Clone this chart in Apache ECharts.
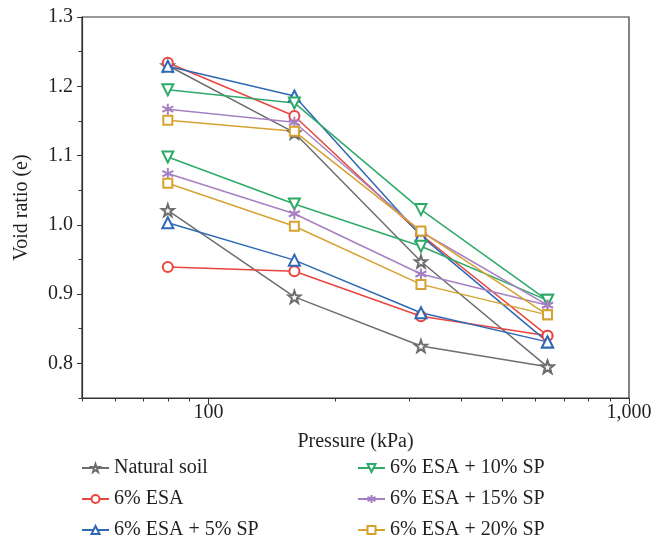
<!DOCTYPE html>
<html>
<head>
<meta charset="utf-8">
<script src="https://cdn.jsdelivr.net/npm/echarts@6/dist/echarts.min.js"></script>
<style>html,body{margin:0;padding:0;background:#fff}#c{width:664px;height:543px}</style>
</head>
<body>
<div id="c"></div>
<script>
const pressure = [80, 160, 320, 640];
const names = ['Natural soil', '6% ESA', '6% ESA + 5% SP', '6% ESA + 10% SP', '6% ESA + 15% SP', '6% ESA + 20% SP'];
const upperNatural = [1.230, 1.133, 0.947, 0.795];
const lowerNatural = [1.021, 0.896, 0.825, 0.795];
const upperESA = [1.234, 1.157, 0.986, 0.840];
const lowerESA = [0.939, 0.933, 0.868, 0.840];
const upperSP5 = [1.229, 1.186, 0.984, 0.831];
const lowerSP5 = [1.003, 0.949, 0.873, 0.831];
const upperSP10 = [1.195, 1.176, 1.022, 0.891];
const lowerSP10 = [1.098, 1.030, 0.969, 0.891];
const upperSP15 = [1.167, 1.148, 0.990, 0.884];
const lowerSP15 = [1.074, 1.016, 0.929, 0.884];
const upperSP20 = [1.151, 1.135, 0.991, 0.870];
const lowerSP20 = [1.060, 0.998, 0.914, 0.870];
const xMajorTicks = [100, 1000];
const xMinorTicks = [50, 60, 70, 80, 90, 200, 300, 400, 500, 600, 700, 800, 900];
const yMajorTicks = [0.8, 0.9, 1.0, 1.1, 1.2, 1.3];
const yMinorTicks = [0.75, 0.85, 0.95, 1.05, 1.15, 1.25];

const colors = ['#6e6e6e', '#e8453f', '#2f68b4', '#2eaa68', '#a680c2', '#d6a22f'];
const starPath = 'emptyPath://M0,-10L2.35,-3.24L9.51,-3.09L3.8,1.24L5.88,8.09L0,4L-5.88,8.09L-3.8,1.24L-9.51,-3.09L-2.35,-3.24Z';
const astPath = 'emptyPath://M0,-10L0,10M-8.66,-5L8.66,5M-8.66,5L8.66,-5';
const downTri = 'emptyPath://M-10,-8.66L10,-8.66L0,8.66Z';
const symbols = [starPath, 'emptyCircle', 'emptyTriangle', downTri, astPath, 'emptyRect'];
const sizes = [12, 10, 11, 11, 11, 9];
const seriesData = [
  [upperNatural, lowerNatural],
  [upperESA, lowerESA],
  [upperSP5, lowerSP5],
  [upperSP10, lowerSP10],
  [upperSP15, lowerSP15],
  [upperSP20, lowerSP20]
];

const font = '"Liberation Serif", "DejaVu Serif", serif';
const series = [];
seriesData.forEach((pair, i) => {
  pair.forEach(vals => {
    series.push({
      name: names[i],
      type: 'line',
      xAxisIndex: 0,
      yAxisIndex: 0,
      data: pressure.map((p, k) => [p, vals[k]]),
      color: colors[i],
      symbol: symbols[i],
      symbolSize: sizes[i],
      lineStyle: { width: 1.5, color: colors[i] },
      itemStyle: { color: colors[i], borderWidth: 1.4 },
      emphasis: { disabled: true },
      animation: false
    });
  });
});

const chart = echarts.init(document.getElementById('c'), null, { renderer: 'canvas' });
const axisLine = { show: true, lineStyle: { color: '#333', width: 1.2 } };
const legendText = { fontFamily: font, fontSize: 20, color: '#231f20', lineHeight: 20 };
chart.setOption({
  backgroundColor: '#fff',
  animation: false,
  grid: { left: 82, right: 35, top: 17, bottom: 145, show: true, borderColor: '#333', borderWidth: 1.2 },
  xAxis: [
    {
      type: 'log', min: 50, max: 1000, logBase: 10,
      name: 'Pressure (kPa)', nameLocation: 'middle', nameGap: 34,
      nameTextStyle: { fontFamily: font, fontSize: 20, color: '#231f20' },
      axisLine: axisLine,
      axisTick: { show: true, length: 6, lineStyle: { color: '#333' }, customValues: xMajorTicks },
      axisLabel: { customValues: xMajorTicks, fontFamily: font, fontSize: 20, color: '#231f20', margin: 5,
        formatter: v => Number(v).toLocaleString('en-US') },
      splitLine: { show: false }, minorTick: { show: false }
    },
    {
      type: 'log', min: 50, max: 1000, logBase: 10, position: 'bottom',
      axisLine: { show: false },
      axisTick: { show: true, length: 3.5, lineStyle: { color: '#333' }, customValues: xMinorTicks },
      axisLabel: { show: false }, splitLine: { show: false }
    }
  ],
  yAxis: [
    {
      type: 'value', min: 0.75, max: 1.3,
      name: 'Void ratio (e)', nameLocation: 'middle', nameGap: 50,
      nameTextStyle: { fontFamily: font, fontSize: 20, color: '#231f20' },
      axisLine: axisLine,
      axisTick: { show: true, length: 5, lineStyle: { color: '#333' }, customValues: yMajorTicks },
      axisLabel: { customValues: yMajorTicks, fontFamily: font, fontSize: 20, color: '#231f20', margin: 9,
        formatter: v => Number(v).toFixed(1) },
      splitLine: { show: false }
    },
    {
      type: 'value', min: 0.75, max: 1.3, position: 'left',
      axisLine: { show: false },
      axisTick: { show: true, length: 3.5, lineStyle: { color: '#333' }, customValues: yMinorTicks },
      axisLabel: { show: false }, splitLine: { show: false }
    }
  ],
  legend: [
    {
      data: names.slice(0, 3), orient: 'vertical', left: 81, top: 458, padding: 0,
      itemWidth: 27, itemHeight: 10, itemGap: 11, textStyle: legendText
    },
    {
      data: names.slice(3), orient: 'vertical', left: 357, top: 458, padding: 0,
      itemWidth: 27, itemHeight: 10, itemGap: 11, textStyle: legendText
    }
  ],
  series: series
});
</script>
</body>
</html>
